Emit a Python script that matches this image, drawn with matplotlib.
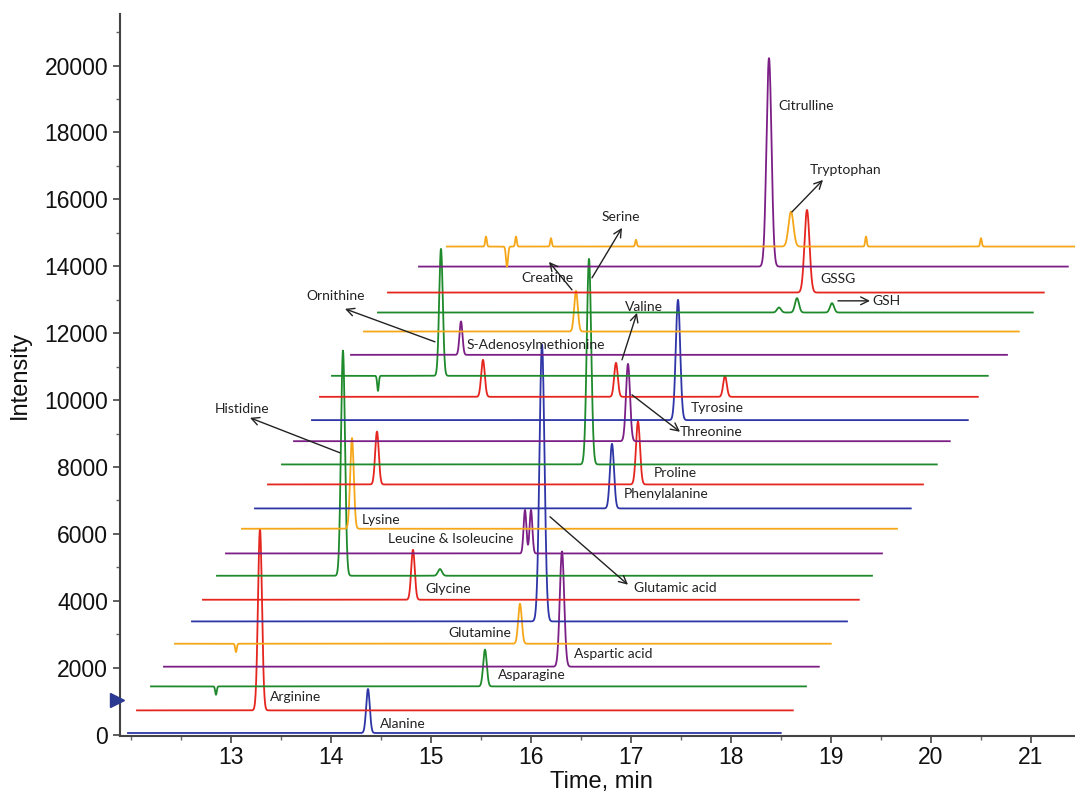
import numpy as np
import matplotlib.pyplot as plt
from matplotlib.ticker import MultipleLocator

# Trace colours
BLUE = '#2e35a6'
RED = '#e5261f'
GREEN = '#1e8a2c'
PURPLE = '#7b1f86'
ORANGE = '#f5a719'

# One chromatogram per row, offset up and to the right
trace_colors = [BLUE, RED, GREEN, PURPLE, ORANGE, BLUE, RED, GREEN, PURPLE, ORANGE,
                BLUE, RED, GREEN, PURPLE, BLUE, RED, GREEN, PURPLE, ORANGE, GREEN,
                RED, PURPLE, ORANGE]
trace_start = [11.97, 12.06, 12.20, 12.33, 12.44, 12.61, 12.72, 12.86, 12.95, 13.11,
               13.24, 13.37, 13.51, 13.63, 13.81, 13.89, 14.01, 14.20, 14.33, 14.47,
               14.57, 14.88, 15.16]
trace_end = [18.50, 18.62, 18.75, 18.88, 19.00, 19.16, 19.28, 19.41, 19.51, 19.66,
             19.80, 19.92, 20.06, 20.19, 20.37, 20.47, 20.57, 20.76, 20.88, 21.02,
             21.13, 21.37, 21.50]
trace_base = [50, 726, 1443, 2032, 2719, 3385, 4033, 4750, 5417, 6155,
              6762, 7479, 8077, 8772, 9402, 10098, 10726, 11353, 12050, 12618,
              13215, 13991, 14590]

# Peaks: trace index, retention time (min), height above baseline, width (sigma)
peak_trace = [0, 1, 2, 3, 4, 5, 6, 7, 7, 8, 8, 9, 10, 11, 11, 12, 13, 14,
              15, 15, 15, 16, 17, 18, 19, 19, 19, 20, 21, 22,
              2, 4, 16, 22, 22, 22, 22, 22, 22, 22]
peak_time = [14.37, 13.29, 15.54, 16.31, 15.89, 16.11, 14.82, 14.12, 15.09, 15.94, 16.00,
             14.21, 16.81, 14.46, 17.07, 16.58, 16.97, 17.47,
             15.52, 16.85, 17.94, 15.10, 15.30, 16.45, 18.48, 18.66, 19.01, 18.76,
             18.38, 18.60,
             12.85, 13.05, 14.47, 15.76, 15.55, 15.85, 16.20, 17.05, 19.35, 20.50]
peak_height = [1315, 5420, 1100, 3445, 1195, 8270, 1494, 6730, 200, 1300, 1300,
               2710, 1932, 1580, 1882, 6145, 2310, 3595,
               1106, 1016, 628, 3794, 1000, 1215, 150, 430, 280, 2470,
               6230, 1045,
               -250, -250, -450, -600, 300, 300, 250, 200, 300, 250]
peak_sigma = [0.018, 0.020, 0.018, 0.022, 0.018, 0.025, 0.018, 0.020, 0.020, 0.014, 0.014,
              0.018, 0.020, 0.018, 0.020, 0.022, 0.020, 0.022,
              0.018, 0.018, 0.018, 0.018, 0.015, 0.018, 0.020, 0.020, 0.020, 0.025,
              0.025, 0.025,
              0.008, 0.008, 0.008, 0.010, 0.008, 0.008, 0.008, 0.008, 0.008, 0.008]

# Compound labels: text, left edge (min), vertical centre (intensity)
label_text = ['Citrulline', 'Tryptophan', 'Serine', 'Creatine', 'GSSG', 'GSH',
              'Ornithine', 'Valine', 'S-Adenosylmethionine', 'Tyrosine', 'Threonine',
              'Histidine', 'Proline', 'Phenylalanine', 'Lysine', 'Leucine & Isoleucine',
              'Glutamic acid', 'Glycine', 'Glutamine', 'Aspartic acid', 'Asparagine',
              'Arginine', 'Alanine']
label_x = [18.47, 18.79, 16.71, 15.90, 18.89, 19.41, 13.75, 16.94, 15.36, 17.60, 17.49,
           12.84, 17.23, 16.93, 14.31, 14.57, 17.03, 14.94, 15.17, 16.43, 15.67,
           13.39, 14.49]
label_y = [18793, 16880, 15477, 13654, 13624, 12967, 13116, 12787, 11652, 9770, 9053,
           9740, 7828, 7200, 6424, 5856, 4392, 4362, 3047, 2420, 1793, 1135, 329]

# Pointer arrows: tail (min, intensity) -> head (min, intensity)
arrow_tail = [(18.61, 15625), (16.61, 13654), (16.41, 13295), (19.07, 12967),
              (15.04, 11742), (16.91, 11204), (17.01, 10158), (14.09, 8425),
              (16.19, 6513)]
arrow_head = [(18.92, 16582), (16.91, 15148), (16.18, 14132), (19.39, 12967),
              (14.14, 12728), (17.06, 12608), (17.49, 9053), (13.19, 9471),
              (16.97, 4482)]

fig = plt.figure(figsize=(10.75, 7.92), dpi=100)
ax = fig.add_axes([0.1116, 0.0707, 0.8884, 0.9116])

for i, color in enumerate(trace_colors):
    t = np.arange(trace_start[i], trace_end[i], 0.002)
    y = np.full_like(t, trace_base[i], dtype=float)
    for k, tr in enumerate(peak_trace):
        if tr == i:
            y += peak_height[k] * np.exp(-0.5 * ((t - peak_time[k]) / peak_sigma[k]) ** 2)
    ax.plot(t, y, color=color, lw=1.3, solid_joinstyle='round')

for text, lx, ly in zip(label_text, label_x, label_y):
    ax.text(lx, ly, text, ha='left', va='center', fontsize=10,
            family=['Lato', 'DejaVu Sans'], color='#222222')

for tail, head in zip(arrow_tail, arrow_head):
    ax.annotate('', xy=head, xytext=tail,
                arrowprops=dict(arrowstyle='->', lw=1.0, color='#222222',
                                shrinkA=0, shrinkB=0, mutation_scale=14))

# reference marker on the intensity axis
ax.plot(11.865, 1050, marker='>', ms=10, color='#2b3990', clip_on=False, zorder=5)

ax.set_xlim(11.89, 21.44)
ax.set_ylim(-40, 21540)
ax.set_xticks(range(13, 22))
ax.set_yticks(range(0, 20001, 2000))
ax.xaxis.set_minor_locator(MultipleLocator(0.5))
ax.yaxis.set_minor_locator(MultipleLocator(1000))

for side in ['top', 'right']:
    ax.spines[side].set_visible(False)
for side in ['left', 'bottom']:
    ax.spines[side].set_color('#444444')
    ax.spines[side].set_linewidth(1.5)

ax.tick_params(which='major', length=5, width=1.2, color='#444444',
               labelsize=16.5, labelcolor='#111111')
ax.tick_params(axis='x', which='major', pad=2)
ax.tick_params(which='minor', length=3, width=1.0, color='#666666')
for lab in ax.get_xticklabels() + ax.get_yticklabels():
    lab.set_family(['Liberation Sans', 'DejaVu Sans'])

ax.set_xlabel('Time, min', fontsize=17, family=['Liberation Sans', 'DejaVu Sans'],
              color='#111111')
ax.xaxis.set_label_coords(0.504, -0.049)
ax.set_ylabel('Intensity', fontsize=17, family=['Liberation Sans', 'DejaVu Sans'],
              labelpad=10, color='#111111')

fig.savefig('out.png', dpi=100, facecolor='white')
